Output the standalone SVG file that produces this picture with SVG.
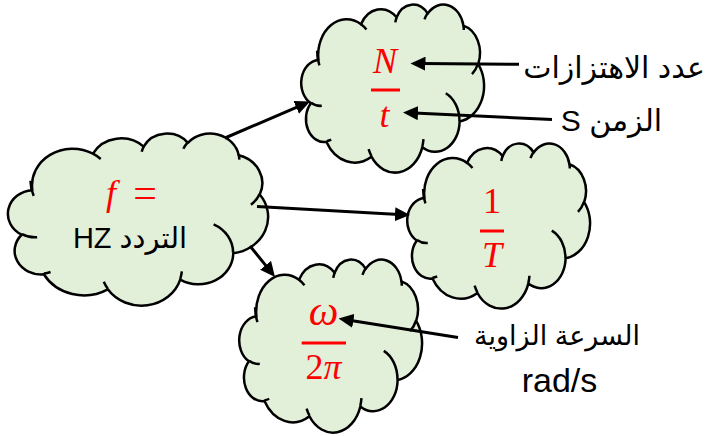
<svg xmlns="http://www.w3.org/2000/svg" xmlns:xlink="http://www.w3.org/1999/xlink" width="709" height="436" viewBox="0 0 709 436">
<style>
.cloud{fill:#E2EFD9;stroke:#000;stroke-width:2.5;vector-effect:non-scaling-stroke;stroke-linejoin:round}
.inner{fill:none;stroke:#000;stroke-width:2.5;vector-effect:non-scaling-stroke;stroke-linecap:butt}
.math{font-family:"Liberation Serif","DejaVu Serif",serif;font-size:36px;fill:#FF0000;text-anchor:middle}
.it{font-style:italic}
.bar{stroke:#FF0000;stroke-width:3}
.lbl{font-family:"Liberation Sans","DejaVu Sans",sans-serif;font-size:29px;fill:#000;text-anchor:middle}
.conn{stroke:#000;stroke-width:3;fill:none;marker-end:url(#ah)}
</style>
<defs>
<marker id="ah" markerUnits="userSpaceOnUse" markerWidth="15" markerHeight="14" refX="4" refY="7" orient="auto">
<path d="M0,0 L15,7 L0,14 z" fill="#000"/>
</marker>
<g id="cloud">
<path class="cloud" d="M3900 14370 A6753 9190 0 0 1 14005 5202 A5333 7267 0 0 1 22457 3430 A4365 5945 0 0 1 29834 2479 A4857 6595 0 0 1 38319 5574 A5333 7273 0 0 1 41820 15458 A6775 9220 0 0 1 37406 30201 A5785 7867 0 0 1 28557 36811 A6752 9215 0 0 1 16483 39266 A7720 10543 0 0 1 5806 35470 A4360 5918 0 0 1 2113 25550 A4345 5945 0 0 1 3900 14370 Z"/>
<path class="inner" d="M4693 26177 A4345 5945 0 0 1 2160 25380 M6928 34899 A4360 5918 0 0 1 5820 35281 M16478 39090 A6752 9215 0 0 1 15808 37346 M28827 34751 A6752 9215 0 0 1 28560 36660 M34129 22954 A5785 7867 0 0 1 37380 30090 M41798 15354 A5333 7273 0 0 1 40351 18029 M38324 5426 A4857 6595 0 0 1 38400 6690 M29078 3952 A4857 6595 0 0 1 29820 2340 M22141 4720 A4365 5945 0 0 1 22500 3330 M14000 5192 A6753 9190 0 0 1 15300 6540 M4127 15789 A6753 9190 0 0 1 3592 12029"/>
</g>
</defs>

<g id="node-f">
<use xlink:href="#cloud" href="#cloud" transform="translate(9,133) scale(0.0059954,0.0039815)"/>
<text class="math it" x="111" y="205">f</text>
<text class="math" x="145" y="207" style="font-size:42px">=</text>
<text class="lbl" x="130" y="248" direction="rtl">التردد HZ</text>
</g>

<g id="node-Nt">
<use xlink:href="#cloud" href="#cloud" transform="translate(302,4) scale(0.004213,0.0038889)"/>
<text class="math it" x="385" y="72.5">N</text>
<line class="bar" x1="371" y1="90" x2="400" y2="90"/>
<text class="math it" x="384.5" y="127">t</text>
</g>

<g id="node-1T">
<use xlink:href="#cloud" href="#cloud" transform="translate(408,143) scale(0.004213,0.0038194)"/>
<text class="math" x="492" y="213">1</text>
<line class="bar" x1="480" y1="231" x2="504" y2="231"/>
<text class="math it" x="492" y="267">T</text>
</g>

<g id="node-w2pi">
<use xlink:href="#cloud" href="#cloud" transform="translate(240,259) scale(0.004213,0.0040046)"/>
<text class="math it" x="323.5" y="325" style="font-size:42px">ω</text>
<line class="bar" x1="301.7" y1="343" x2="346" y2="343"/>
<text class="math" x="323.5" y="379">2<tspan class="it">π</tspan></text>
</g>

<g id="label-oscillations">
<text class="lbl" x="614" y="78" direction="rtl" style="font-size:30px">عدد الاهتزازات</text>
</g>
<g id="label-time">
<text class="lbl" x="611.5" y="131" direction="rtl" style="font-size:30px">الزمن S</text>
</g>
<g id="label-angular">
<text class="lbl" x="557" y="345" direction="rtl" style="font-size:27px">السرعة الزاوية</text>
<text class="lbl" x="559.5" y="391.7" style="font-size:34px">rad/s</text>
</g>

<g id="connectors">
<line class="conn" x1="225" y1="138" x2="299.9" y2="105.8"/>
<line class="conn" x1="257" y1="206.5" x2="399" y2="214.4"/>
<line class="conn" x1="250" y1="246" x2="268.1" y2="268.4"/>
<line class="conn" x1="519" y1="64.3" x2="421.5" y2="63.6"/>
<line class="conn" x1="552" y1="119.5" x2="414" y2="113"/>
<line class="conn" x1="458" y1="337.5" x2="349.4" y2="320.2"/>
</g>
</svg>
